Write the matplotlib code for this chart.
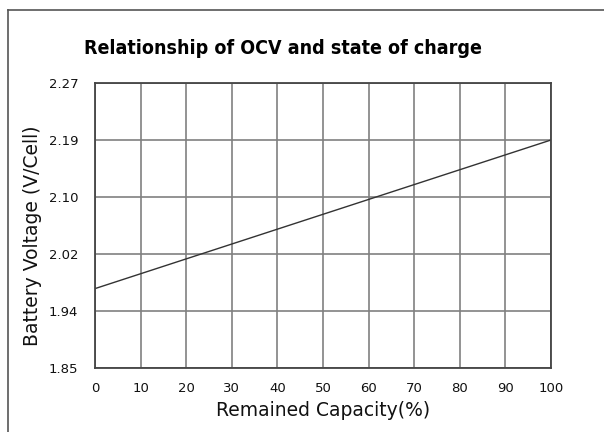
import matplotlib
matplotlib.use("Agg")
import matplotlib.pyplot as plt
import numpy as np
from matplotlib.lines import Line2D

capacity = [0, 100]
voltage = [1.967, 2.186]
x_ticks = [0, 10, 20, 30, 40, 50, 60, 70, 80, 90, 100]
y_tick_labels = ["1.85", "1.94", "2.02", "2.10", "2.19", "2.27"]
y_min, y_max = 1.85, 2.27

W, H = 604, 432
fig = plt.figure(figsize=(W / 100, H / 100), dpi=100)
fig.patch.set_facecolor("white")

# frame lines (top and left) of the screenshot
fig.add_artist(Line2D([8 / W, 8 / W], [0, 1 - 10 / H], transform=fig.transFigure, color="#555555", lw=1.2))
fig.add_artist(Line2D([8 / W, 1], [1 - 10 / H, 1 - 10 / H], transform=fig.transFigure, color="#555555", lw=1.2))

left, right, top, bottom = 95, 551, 83, 368
ax = fig.add_axes([left / W, 1 - bottom / H, (right - left) / W, (bottom - top) / H])

ax.plot(capacity, voltage, color="#333333", lw=1.0)
ax.set_xlim(0, 100)
ax.set_ylim(y_min, y_max)
ax.set_xticks(x_ticks)
yt = np.linspace(y_min, y_max, len(y_tick_labels))
ax.set_yticks(yt)
ax.set_yticklabels(y_tick_labels)
ax.grid(True, color="#808080", lw=1.2)
ax.set_axisbelow(True)
for s in ax.spines.values():
    s.set_color("#444444")
    s.set_linewidth(1.3)
ax.tick_params(length=0, labelsize=9.5, colors="#111111")
ax.tick_params(axis="x", pad=10)
ax.tick_params(axis="y", pad=12)

fig.text(283 / W, 1 - 48 / H, "Relationship of OCV and state of charge", ha="center", va="center",
         fontsize=14, fontweight="bold", fontstretch="condensed", color="black")
fig.text(33 / W, 1 - 236 / H, "Battery Voltage (V/Cell)", rotation=90, ha="center", va="center",
         fontsize=13.5, color="#111111")
fig.text(323 / W, 1 - 411 / H, "Remained Capacity(%)", ha="center", va="center",
         fontsize=13.5, color="#111111")

fig.savefig("out.png", dpi=100)
